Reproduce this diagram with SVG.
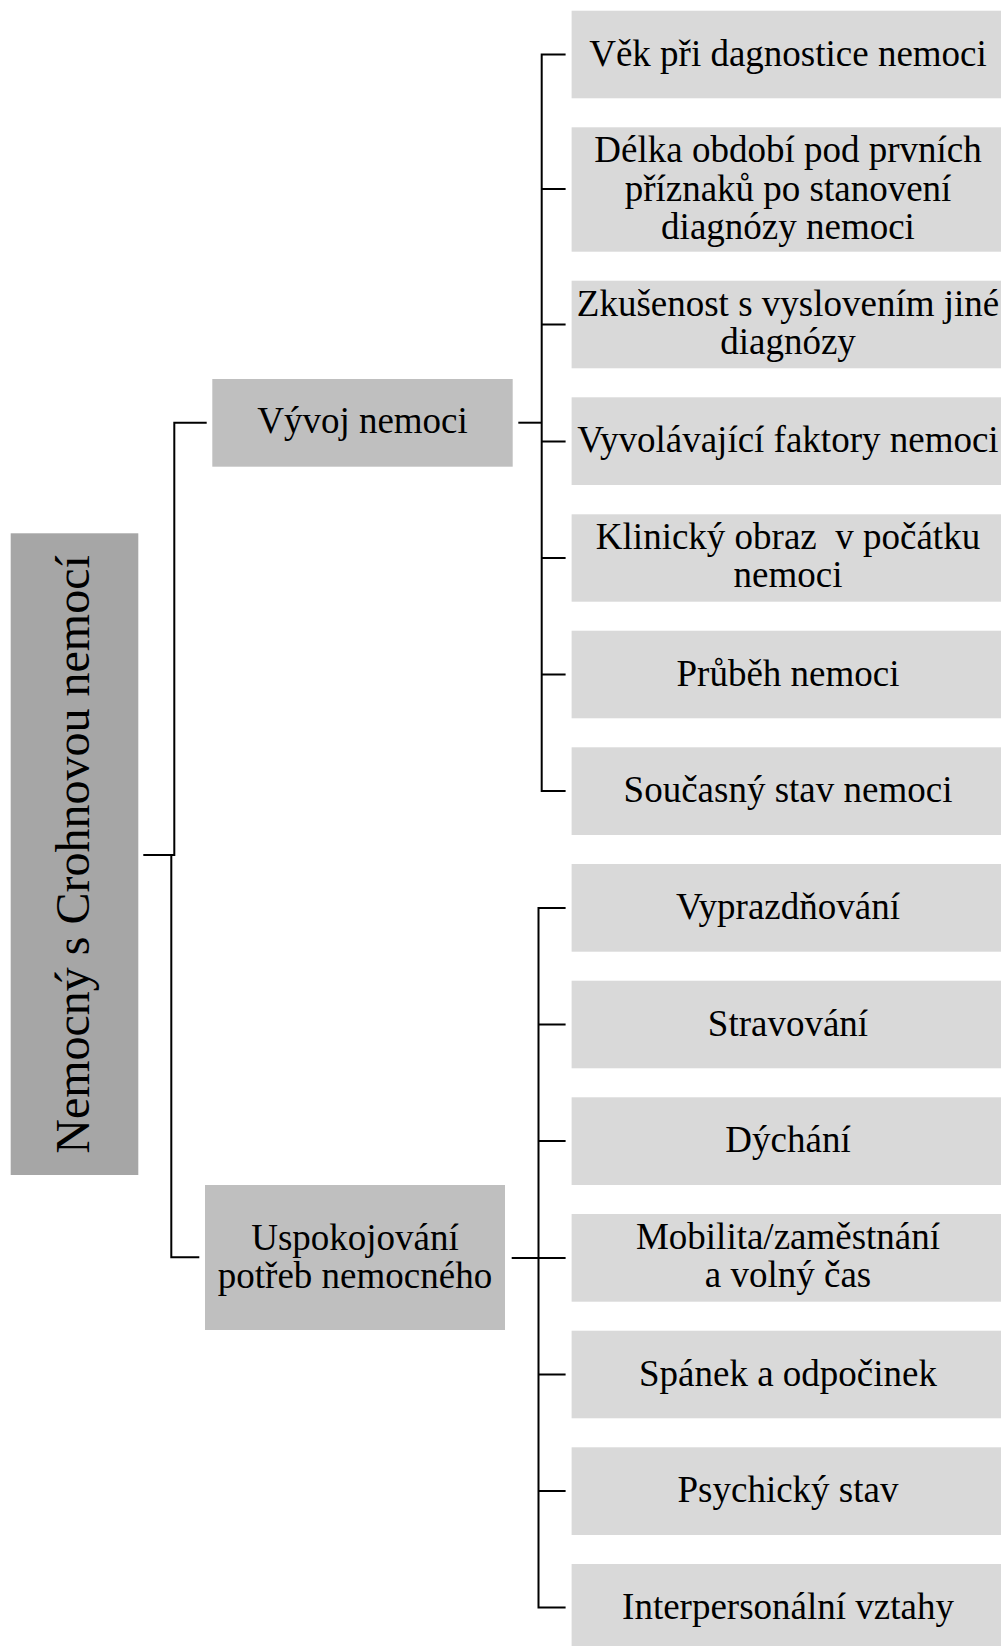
<svg xmlns="http://www.w3.org/2000/svg" width="1001" height="1646" viewBox="0 0 1001 1646">
<style>
text{font-family:"Liberation Serif","Times New Roman",serif;font-size:37px;fill:#000;text-anchor:middle}
.root rect{fill:#a6a6a6}
.mid rect{fill:#bfbfbf}
.leaf rect{fill:#d9d9d9}
.rt{font-size:48px}
#connectors path{fill:none;stroke:#000;stroke-width:2}
</style>
<rect width="1001" height="1646" fill="#fff"/>
<g id="connectors">
<path d="M143.3,855 H174.3 V422.7 H206.7"/>
<path d="M171.3,855 V1257.3 H199.3"/>
<path d="M518.3,422.7 H541.7"/>
<path d="M565.6,54.5 H541.7 V791 H565.6"/>
<path d="M541.7,189 H565.6 M541.7,324.5 H565.6 M541.7,441.5 H565.6 M541.7,558 H565.6 M541.7,674.5 H565.6"/>
<path d="M511.7,1258 H538.5"/>
<path d="M565.6,908 H538.5 V1607.5 H565.6"/>
<path d="M538.5,1024.5 H565.6 M538.5,1141 H565.6 M538.5,1258 H565.6 M538.5,1374.5 H565.6 M538.5,1491 H565.6"/>
</g>
<g id="root" class="root">
<rect x="10.7" y="533.3" width="127.6" height="641.7"/>
<text class="rt" transform="translate(89.3,854.5) rotate(-90)">Nemocný s Crohnovou nemocí</text>
</g>
<g id="vyvoj" class="mid">
<rect x="212.3" y="379" width="300.4" height="87.7"/>
<text x="362.5" y="433.3">Vývoj nemoci</text>
</g>
<g id="uspokojovani" class="mid">
<rect x="205" y="1185" width="300" height="145"/>
<text x="355" y="1250">Uspokojování</text>
<text x="355" y="1288.3">potřeb nemocného</text>
</g>
<g id="n1" class="leaf"><rect x="571.6" y="10.7" width="430" height="87.6"/><text x="788" y="65.5">Věk při dagnostice nemoci</text></g>
<g id="n2" class="leaf"><rect x="571.6" y="127.3" width="430" height="124.4"/><text x="788" y="162">Délka období pod prvních</text><text x="788" y="200.5">příznaků po stanovení</text><text x="788" y="239">diagnózy nemoci</text></g>
<g id="n3" class="leaf"><rect x="571.6" y="280.7" width="430" height="87.6"/><text x="788" y="315.5">Zkušenost s vyslovením jiné</text><text x="788" y="353.8">diagnózy</text></g>
<g id="n4" class="leaf"><rect x="571.6" y="397.3" width="430" height="87.7"/><text x="788" y="452.3">Vyvolávající faktory nemoci</text></g>
<g id="n5" class="leaf"><rect x="571.6" y="514.3" width="430" height="87.4"/><text x="788" y="549" xml:space="preserve">Klinický obraz  v počátku</text><text x="788" y="587.3">nemoci</text></g>
<g id="n6" class="leaf"><rect x="571.6" y="630.7" width="430" height="87.6"/><text x="788" y="685.5">Průběh nemoci</text></g>
<g id="n7" class="leaf"><rect x="571.6" y="747.3" width="430" height="87.7"/><text x="788" y="802">Současný stav nemoci</text></g>
<g id="n8" class="leaf"><rect x="571.6" y="864" width="430" height="87.7"/><text x="788" y="919">Vyprazdňování</text></g>
<g id="n9" class="leaf"><rect x="571.6" y="980.7" width="430" height="87.6"/><text x="788" y="1035.5">Stravování</text></g>
<g id="n10" class="leaf"><rect x="571.6" y="1097.3" width="430" height="87.7"/><text x="788" y="1152">Dýchání</text></g>
<g id="n11" class="leaf"><rect x="571.6" y="1214" width="430" height="87.7"/><text x="788" y="1248.5">Mobilita/zaměstnání</text><text x="788" y="1286.8">a volný čas</text></g>
<g id="n12" class="leaf"><rect x="571.6" y="1330.7" width="430" height="87.6"/><text x="788" y="1385.5">Spánek a odpočinek</text></g>
<g id="n13" class="leaf"><rect x="571.6" y="1447.3" width="430" height="87.7"/><text x="788" y="1502">Psychický stav</text></g>
<g id="n14" class="leaf"><rect x="571.6" y="1564" width="430" height="88"/><text x="788" y="1618.5">Interpersonální vztahy</text></g>
</svg>
